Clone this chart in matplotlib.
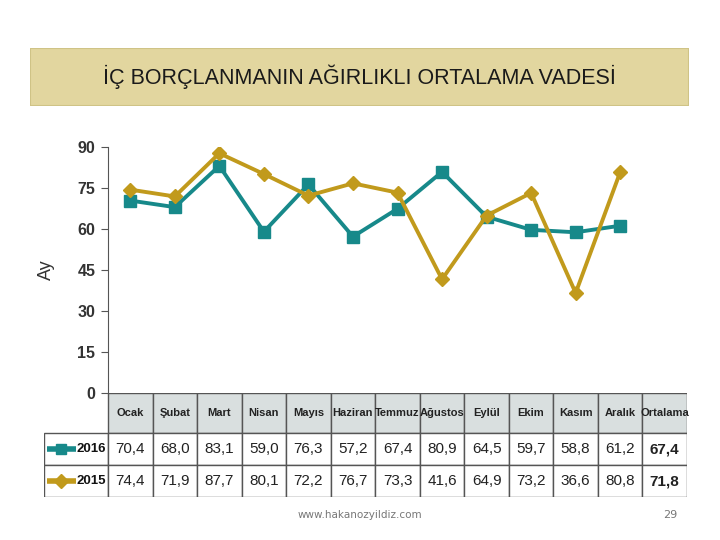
import numpy as np
import matplotlib
matplotlib.use('Agg')
import matplotlib.pyplot as plt
from matplotlib.patches import Rectangle

plt.rcParams['font.family'] = ['Liberation Sans', 'DejaVu Sans']

# Data
months = ['Ocak', 'Şubat', 'Mart', 'Nisan', 'Mayıs', 'Haziran', 'Temmuz',
          'Ağustos', 'Eylül', 'Ekim', 'Kasım', 'Aralık']
vals_2016 = [70.4, 68.0, 83.1, 59.0, 76.3, 57.2, 67.4, 80.9, 64.5, 59.7, 58.8, 61.2]
vals_2015 = [74.4, 71.9, 87.7, 80.1, 72.2, 76.7, 73.3, 41.6, 64.9, 73.2, 36.6, 80.8]
avg_2016 = 67.4
avg_2015 = 71.8
yticks = [0, 15, 30, 45, 60, 75, 90]

teal = '#17898a'
gold = '#c19a1c'

W, H = 720, 540
fig = plt.figure(figsize=(7.2, 5.4), dpi=100)

def fx(px):
    return px / W

def fy(py):
    return 1 - py / H

# title banner
ban = fig.add_axes([fx(30), fy(106), fx(689) - fx(30), fy(48) - fy(106)])
ban.set_xlim(0, 1)
ban.set_ylim(0, 1)
ban.axis('off')
ban.add_patch(Rectangle((0, 0), 1, 1, facecolor='#e2d69f', edgecolor='#cfc386', lw=1.5))
ban.text(0.5, 0.5, 'İÇ BORÇLANMANIN AĞIRLIKLI ORTALAMA VADESİ', ha='center', va='center',
         fontsize=15.5, color='#1a1a1a')

# line chart
ax = fig.add_axes([fx(108), fy(393), fx(687) - fx(108), fy(147) - fy(393)])
x = np.arange(len(months))
ax.plot(x, vals_2016, color=teal, lw=2.8, marker='s', ms=8, zorder=3)
ax.plot(x, vals_2015, color=gold, lw=2.8, marker='D', ms=7, zorder=3)
ax.set_xlim(-0.5, 12.5)
ax.set_ylim(0, 90)
ax.set_yticks(yticks)
ax.set_yticklabels([str(v) for v in yticks], fontsize=11.5, fontweight='bold', color='#333333')
ax.set_xticks([])
for s in ['top', 'right', 'bottom']:
    ax.spines[s].set_visible(False)
ax.spines['left'].set_color('#555555')
ax.tick_params(axis='y', length=5, color='#555555', pad=4)
ax.set_ylabel('Ay', fontsize=13, color='#333333', labelpad=16)

# data table
cw_label = (108 - 44) / ((687 - 108) / 13)
hh = 40 / 31.5
tb = fig.add_axes([fx(44), fy(497), fx(687) - fx(44), fy(393) - fy(497)])
tb.set_xlim(-0.5 - cw_label, 12.5)
tb.set_ylim(0, 2 + hh)
tb.axis('off')
edge = '#555555'
cols = months + ['Ortalama']
for i, c in enumerate(cols):
    tb.add_patch(Rectangle((i - 0.5, 2), 1, hh, facecolor='#d9dfdf', edgecolor=edge, lw=1))
    tb.text(i, 2 + hh / 2, c, ha='center', va='center', fontsize=8, fontweight='bold', color='#222222')
rows = [(vals_2016 + [avg_2016], '2016', teal, 's', 1),
        (vals_2015 + [avg_2015], '2015', gold, 'D', 0)]
for vals, name, col, mk, yr in rows:
    tb.add_patch(Rectangle((-0.5 - cw_label, yr), cw_label, 1, facecolor='white', edgecolor=edge, lw=1))
    lx0 = -0.5 - cw_label + 0.07
    tb.plot([lx0, lx0 + 0.64], [yr + 0.5, yr + 0.5], color=col, lw=4, solid_capstyle='butt')
    tb.plot([lx0 + 0.32], [yr + 0.5], color=col, marker=mk, ms=7)
    tb.text(-0.55, yr + 0.5, name, ha='right', va='center', fontsize=9.5, fontweight='bold', color='#111111')
    for i, v in enumerate(vals):
        tb.add_patch(Rectangle((i - 0.5, yr), 1, 1, facecolor='white', edgecolor=edge, lw=1))
        bold = i == len(vals) - 1
        tb.text(i, yr + 0.5, f'{v:.1f}'.replace('.', ','), ha='center', va='center', fontsize=11,
                fontweight='bold' if bold else 'normal', color='#222222')

# footer
fig.text(fx(360), fy(515), 'www.hakanozyildiz.com', ha='center', va='center', fontsize=7.5,
         color='#777777', family=['DejaVu Sans'])
fig.text(fx(670), fy(515), '29', ha='center', va='center', fontsize=8, color='#777777',
         family=['DejaVu Sans'])

fig.savefig('out.png', dpi=100)
